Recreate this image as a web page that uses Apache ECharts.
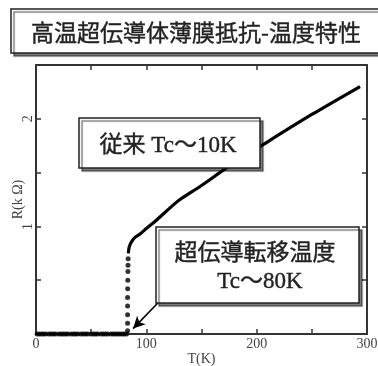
<!DOCTYPE html>
<html><head><meta charset="utf-8">
<script src="https://cdn.jsdelivr.net/npm/echarts@6/dist/echarts.min.js"></script>
<style>html,body{margin:0;padding:0;background:#fff}#c{width:378px;height:366px}</style>
</head><body><div id="c"></div>
<script>
const titleText = '高温超伝導体薄膜抵抗-温度特性';
const note1Text = '従来 Tc〜10K';
const note2Line1 = '超伝導転移温度';
const note2Line2 = 'Tc〜80K';
const xTicks = [0, 100, 200, 300];
const yTicks = [1, 2];
// baseline (superconducting, R = 0) points
const baseT = [1,3,5,7,9,12,14,16,18,21,23,25,27,29,32,34,36,38,41,43,45,47,50,52,54,56,59,61,63,65,68,70,72,74,76,78,80,82];
const baseR = [0,0,0,0,0,0,0,0,0,0,0,0,0,0,0,0,0,0,0,0,0,0,0,0,0,0,0,0,0,0,0,0,0,0,0,0,0,0];
// transition points
const transT = [83, 83, 83, 83, 83, 83.1, 83.2, 83.3, 83.4, 83.5];
const transR = [0.03, 0.1, 0.18, 0.26, 0.34, 0.42, 0.5, 0.58, 0.64, 0.7];
// normal state curve
const curveT = [83.7, 84.5, 86.8, 90, 94.3, 100, 109.4, 124.5, 130.5, 150, 175, 205.8, 250, 293.7];
const curveR = [0.75, 0.81, 0.86, 0.9, 0.93, 0.98, 1.06, 1.2, 1.25, 1.38, 1.56, 1.76, 2.04, 2.3];
// arrow (start, end) in data units
const arrowFrom = [110.6, 0.29];
const arrowTo = [88, 0.05];

const chart = echarts.init(document.getElementById('c'), null, {renderer: 'canvas'});
const serif = '"Liberation Serif", "Noto Sans CJK JP", serif';
const axisCol = '#333';
const labCol = '#444';
const pairs = (a, b) => a.map((v, i) => [v, b[i]]);
const boxStyle = {fill: '#fff', stroke: '#222', lineWidth: 1.5, shadowColor: 'rgba(0,0,0,0.5)', shadowOffsetX: 3, shadowOffsetY: 3, shadowBlur: 1};
const txt = (x, y, text, font) => ({type: 'text', x, y, zlevel: 1, z: 101,
  style: {text, font, fill: '#222', stroke: '#222', lineWidth: 0.4, align: 'center', verticalAlign: 'middle'}});
chart.setOption({
  animation: false,
  grid: {left: 36, right: 11, top: 65, bottom: 32, containLabel: false, outerBoundsMode: 'none'},
  xAxis: [{
    type: 'value', min: 0, max: 300, interval: 50,
    name: 'T(K)', nameLocation: 'middle', nameGap: 18, nameMoveOverlap: false,
    nameTextStyle: {fontFamily: serif, fontSize: 14, color: labCol},
    axisLine: {lineStyle: {color: axisCol, width: 2}},
    axisTick: {inside: true, length: 5, lineStyle: {color: axisCol, width: 1.5}},
    axisLabel: {margin: 3, fontFamily: serif, fontSize: 14, color: labCol,
      formatter: v => xTicks.includes(v) ? String(v) : ''},
    splitLine: {show: false}
  }, {
    type: 'value', position: 'top', min: 0, max: 300, interval: 50,
    axisLine: {show: true, onZero: false, lineStyle: {color: axisCol, width: 2}},
    axisTick: {inside: true, length: 5, lineStyle: {color: axisCol, width: 1.5}},
    axisLabel: {show: false}, splitLine: {show: false}
  }],
  yAxis: [{
    type: 'value', min: 0, max: 2.5, interval: 0.5,
    name: 'R(k Ω)', nameLocation: 'middle', nameGap: 11, nameRotate: 90, nameMoveOverlap: false,
    nameTextStyle: {fontFamily: serif, fontSize: 14, color: labCol},
    axisLine: {show: true, lineStyle: {color: axisCol, width: 2}},
    axisTick: {show: true, inside: true, length: 5, lineStyle: {color: axisCol, width: 1.5}},
    axisLabel: {margin: 1, rotate: 90, fontFamily: serif, fontSize: 14, color: labCol,
      formatter: v => yTicks.includes(v) ? String(v) : ''},
    splitLine: {show: false}
  }, {
    type: 'value', position: 'right', min: 0, max: 2.5, interval: 0.5,
    axisLine: {show: true, onZero: false, lineStyle: {color: axisCol, width: 2}},
    axisTick: {show: true, inside: true, length: 5, lineStyle: {color: axisCol, width: 1.5}},
    axisLabel: {show: false}, splitLine: {show: false}
  }],
  series: [{
    type: 'scatter', data: pairs(baseT, baseR), symbolSize: 5,
    itemStyle: {color: '#000'}
  }, {
    type: 'scatter', data: pairs(transT, transR), symbolSize: 5,
    itemStyle: {color: '#000'}
  }, {
    type: 'line', data: pairs(curveT, curveR), smooth: 0.3, showSymbol: false,
    lineStyle: {color: '#000', width: 3.2},
    markLine: {
      silent: true, symbol: ['none', 'arrow'], symbolSize: [9, 12],
      label: {show: false},
      lineStyle: {color: '#000', width: 1.6, type: 'solid'},
      data: [[{coord: arrowFrom}, {coord: arrowTo}]]
    }
  }],
  graphic: [
    {type: 'rect', zlevel: 1, z: 100, shape: {x: 11, y: 9, width: 380, height: 44}, style: boxStyle},
    txt(196, 32, titleText, '23px "Noto Sans CJK JP"'),
    {type: 'rect', zlevel: 1, z: 100, shape: {x: 79, y: 118, width: 181, height: 50}, style: boxStyle},
    txt(168, 146, note1Text, '23px ' + serif),
    {type: 'rect', zlevel: 1, z: 100, shape: {x: 156, y: 227, width: 203, height: 76}, style: boxStyle},
    txt(255, 254, note2Line1, '23px ' + serif),
    txt(260, 282, note2Line2, '23px ' + serif)
  ]
});
</script></body></html>
